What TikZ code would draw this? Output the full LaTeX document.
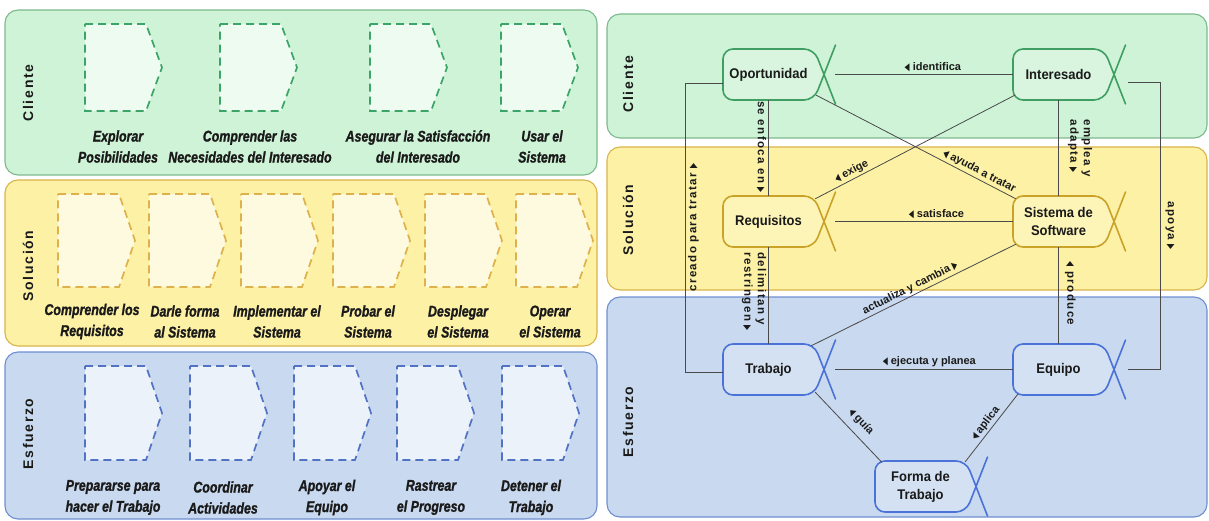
\documentclass[tikz,border=0pt]{standalone}
\usepackage{fontspec}
\setmainfont{Liberation Sans}
\newfontfamily\narrowfont[FakeStretch=0.8, BoldItalicFeatures={FakeBold=1.2}]{Liberation Sans}
\newfontfamily\nodefont[FakeStretch=0.93]{Liberation Sans}
\newfontfamily\lanefont[LetterSpace=12]{Liberation Sans}
\newfontfamily\vlabelfont[LetterSpace=12]{Liberation Sans}
\newfontfamily\symbolfont{DejaVu Sans}
\usetikzlibrary{calc}

% lane colours: fill, border, alpha outline, dashed activity outline
\definecolor{gF}{HTML}{CFF3D7}
\definecolor{gD}{HTML}{7DB98C}
\definecolor{gN}{HTML}{3F9E62}
\definecolor{gC}{HTML}{3BA568}
\definecolor{yF}{HTML}{FDF1A6}
\definecolor{yD}{HTML}{D9B44A}
\definecolor{yN}{HTML}{C9A227}
\definecolor{yC}{HTML}{DDB24C}
\definecolor{bF}{HTML}{C9D9EF}
\definecolor{bD}{HTML}{6E8FCF}
\definecolor{bN}{HTML}{4A72D8}
\definecolor{bC}{HTML}{5272C4}
\definecolor{ink}{HTML}{1A1A1A}
\definecolor{wire}{HTML}{4A4A4A}

% small reading-direction triangles
\newcommand\tri[1]{{\symbolfont\fontsize{10.5}{10.5}\selectfont\scalebox{0.62}[1]{#1}}}
\newcommand\arrL{\tri{◀}}
\newcommand\arrR{\tri{▶}}

\tikzset{
  lanebox/.style={line width=1.1pt, rounded corners=13pt},
  lanename/.style={rotate=90, font=\lanefont\bfseries\fontsize{14}{16}\selectfont, text=ink},
  chev/.style={dash pattern=on 8pt off 5pt, line width=1.7pt},
  chevlabel/.style={align=center, font=\narrowfont\bfseries\itshape\fontsize{15.5}{21}\selectfont, text=ink, inner sep=0pt},
  abody/.style={line width=1.6pt, rounded corners=10pt, line cap=round},
  aarm/.style={line width=1.6pt, line cap=round},
  atext/.style={minimum width=91pt, minimum height=51pt, inner sep=0pt, align=center,
                font=\nodefont\bfseries\fontsize{14}{18}\selectfont, text=ink},
  edge/.style={draw=wire, line width=0.8pt},
  elabel/.style={font=\bfseries\fontsize{11}{13}\selectfont, text=ink, inner sep=2pt},
  vlabel/.style={font=\vlabelfont\bfseries\fontsize{11.5}{13.5}\selectfont, text=ink, inner sep=2pt},
}

% activity arrow: left, top, height, outline, fill
\newcommand\chevron[5]{%
  \draw[chev, draw=#4, fill=#5] (#1,#2) -- ++(61,0) -- ++(16,#3/2) -- ++(-16,#3/2) -- ++(-61,0) -- cycle;}

% alpha: rounded body ending in a cross on the right
% name, left, top, outline, fill, text
\newcommand\alphanode[6]{%
  \filldraw[abody, draw=#4, fill=#5] (#2+101,#3+25.5) -- (#2+91,#3) -- (#2,#3) -- (#2,#3+51)
      -- (#2+91,#3+51) -- (#2+101,#3+25.5);
  \node[atext] (#1) at (#2+45.5,#3+25.5) {#6};
  \draw[aarm, draw=#4] (#2+101,#3+25.5) -- ++(11.5,29.5) (#2+101,#3+25.5) -- ++(11.5,-29.5);
  \coordinate (#1-x) at ($(#1.east)+(21,0)$);}

\begin{document}
\begin{tikzpicture}[x=1pt,y=-1pt]
\useasboundingbox (0,0) rectangle (1209,521);

% ---------- activity spaces ----------
\draw[lanebox, draw=gD, fill=gF] (5,10) rectangle (597,175);
\draw[lanebox, draw=yD, fill=yF] (5,180) rectangle (597,346);
\draw[lanebox, draw=bD, fill=bF] (5,352) rectangle (597,519);

\node[lanename] (lcli) at (28,93) {Cliente};
\node[lanename] (lsol) at (28,266) {Solución};
\node[lanename] (lesf) at (28,434) {Esfuerzo};

\chevron{85}{24}{87}{gC}{gF!35!white}
\chevron{220}{24}{87}{gC}{gF!35!white}
\chevron{370}{24}{87}{gC}{gF!35!white}
\chevron{501}{24}{87}{gC}{gF!35!white}

\chevron{58}{194}{93}{yC}{yF!35!white}
\chevron{149}{194}{93}{yC}{yF!35!white}
\chevron{241}{194}{93}{yC}{yF!35!white}
\chevron{333}{194}{93}{yC}{yF!35!white}
\chevron{425}{194}{93}{yC}{yF!35!white}
\chevron{516}{194}{93}{yC}{yF!35!white}

\chevron{85}{366}{94}{bC}{bF!35!white}
\chevron{190}{366}{94}{bC}{bF!35!white}
\chevron{294}{366}{94}{bC}{bF!35!white}
\chevron{397}{366}{94}{bC}{bF!35!white}
\chevron{502}{366}{94}{bC}{bF!35!white}

\node[chevlabel] (g1) at (118,146.5) {Explorar\\Posibilidades};
\node[chevlabel] (g2) at (250,146.5) {Comprender las\\Necesidades del Interesado};
\node[chevlabel] (g3) at (418,146.5) {Asegurar la Satisfacción\\del Interesado};
\node[chevlabel] (g4) at (542,146.5) {Usar el\\Sistema};

\node[chevlabel] (y1) at (92,321.5) {Comprender los\\Requisitos};
\node[chevlabel] (y2) at (185,321.5) {Darle forma\\al Sistema};
\node[chevlabel] (y3) at (277,321.5) {Implementar el\\Sistema};
\node[chevlabel] (y4) at (368,321.5) {Probar el\\Sistema};
\node[chevlabel] (y5) at (458,321.5) {Desplegar\\el Sistema};
\node[chevlabel] (y6) at (550,321.5) {Operar\\el Sistema};

\node[chevlabel] (b1) at (113,497.5) {Prepararse para\\hacer el Trabajo};
\node[chevlabel] (b2) at (223,497.5) {Coordinar\\Actividades};
\node[chevlabel] (b3) at (327,497.5) {Apoyar el\\Equipo};
\node[chevlabel] (b4) at (431,497.5) {Rastrear\\el Progreso};
\node[chevlabel] (b5) at (531,497.5) {Detener el\\Trabajo};

% ---------- kernel alphas ----------
\draw[lanebox, draw=gD, fill=gF] (607,14) rectangle (1207,138);
\draw[lanebox, draw=yD, fill=yF] (607,147) rectangle (1207,290);
\draw[lanebox, draw=bD, fill=bF] (607,297) rectangle (1207,517);

\node[lanename] (rcli) at (628,84) {Cliente};
\node[lanename] (rsol) at (628,220) {Solución};
\node[lanename] (resf) at (628,422) {Esfuerzo};

\alphanode{op}{723}{49}{gN}{gF!80!white}{Oportunidad}
\alphanode{int}{1013}{49}{gN}{gF!80!white}{Interesado}
\alphanode{req}{723}{196}{yN}{yF!80!white}{Requisitos}
\alphanode{sis}{1013}{196}{yN}{yF!80!white}{Sistema de\\Software}
\alphanode{tr}{723}{344}{bN}{bF!80!white}{Trabajo}
\alphanode{eq}{1013}{344}{bN}{bF!80!white}{Equipo}
\alphanode{fo}{875}{461}{bN}{bF!80!white}{Forma de\\Trabajo}

% horizontal relations
\draw[edge] (op-x) -- node[elabel, above, pos=0.55] {\arrL\ identifica} (int.west);
\draw[edge] (req-x) -- node[elabel, above, pos=0.57] {\arrL\ satisface} (sis.west);
\draw[edge] (tr-x) -- node[elabel, above, pos=0.53] {\arrL\ ejecuta y planea} (eq.west);

% vertical relations
\draw[edge] (op.south) -- node[vlabel, rotate=-90, anchor=north, pos=0.49] {se enfoca en \arrR} (req.north);
\draw[edge] (req.south) -- node[vlabel, rotate=-90, anchor=north, pos=0.46, align=left] {delimitan y\\restringen \arrR} (tr.north);
\draw[edge] (int.south) -- node[vlabel, rotate=-90, anchor=south, pos=0.5, align=left, inner ysep=9pt] {emplea y\\adapta \arrR} (sis.north);
\draw[edge] (sis.south) -- node[vlabel, rotate=-90, anchor=south, pos=0.48, inner ysep=6pt] {\arrL\ produce} (eq.north);

% outer loops
\coordinate (opL) at ($(op.west)+(0,8.5)$);
\coordinate (trL) at ($(tr.west)+(0,2.5)$);
\draw[edge] (opL) -- ++(-37,0) coordinate (c1) |- (trL);
\path (c1) -- (c1 |- trL) node[vlabel, rotate=90, anchor=north, midway] {creado para tratar \arrR};

\coordinate (intR) at ($(int.east)+(24,7.5)$);
\coordinate (eqR) at ($(eq.east)+(24,0)$);
\draw[edge] (intR) -- ++(32,0) coordinate (c2) |- (eqR);
\path (c2) -- (c2 |- eqR) node[vlabel, rotate=-90, anchor=south, midway, inner ysep=5pt] {apoya \arrR};

% diagonal relations
\draw[edge] ($(req.north east)+(1,3)$) -- node[elabel, sloped, above, pos=0.2] {\arrL\ exige} ($(int.south west)+(2,-5)$);
\draw[edge] ($(op.south east)+(2,-5)$) -- node[elabel, sloped, above, pos=0.8] {\arrL\ ayuda a tratar} ($(sis.north west)+(3,3)$);
\draw[edge] ($(tr.north east)+(-3,2)$) -- node[elabel, sloped, above, pos=0.5] {actualiza y cambia \arrR} ($(sis.south west)+(3,-3)$);
\draw[edge] ($(tr.south east)+(1,-3)$) -- node[elabel, sloped, above=5pt, pos=0.55] {\arrL\ guía} ($(fo.north west)+(7,1.5)$);
\draw[edge] ($(fo.north east)+(-1,1)$) -- node[elabel, sloped, above, pos=0.5] {\arrL\ aplica} ($(eq.south west)+(5,-1)$);

\end{tikzpicture}
\end{document}
